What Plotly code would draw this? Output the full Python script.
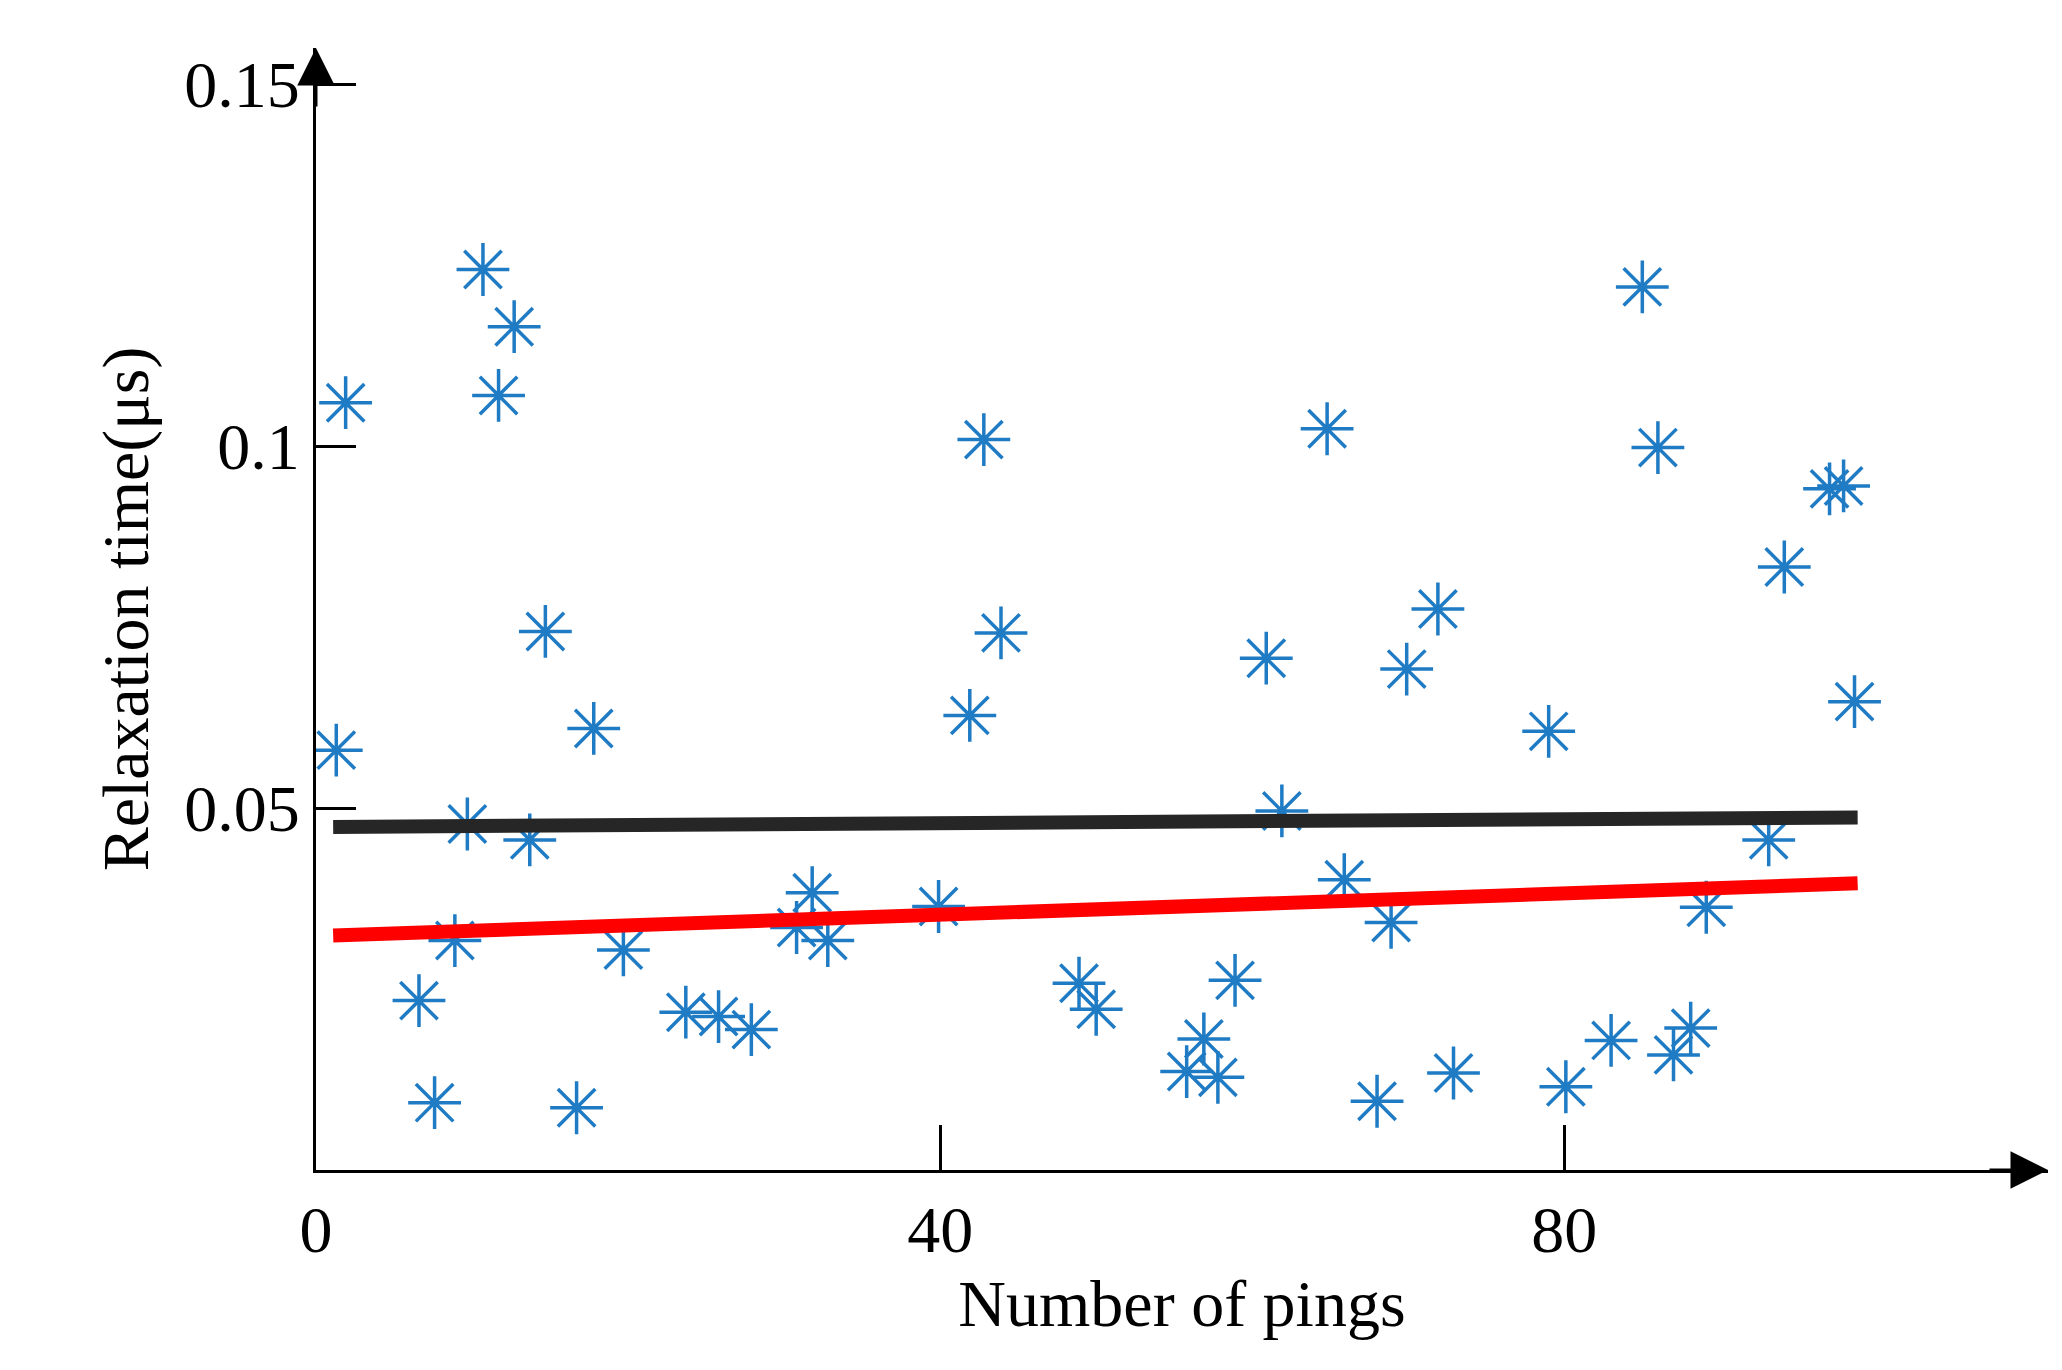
import plotly.graph_objects as go

pings = [1.9, 1.3, 6.6, 7.6, 8.9, 9.7, 10.7, 11.7, 12.7, 13.7, 14.7, 16.7, 17.8, 19.7,
         23.7, 25.8, 27.9, 30.8, 31.8, 32.8, 39.9, 41.9, 42.8, 43.9, 48.9, 50.0, 55.8,
         56.9, 57.8, 58.9, 60.9, 61.9, 64.8, 65.9, 68.0, 68.9, 69.9, 71.9, 72.9, 79.0,
         80.1, 83.0, 85.0, 86.0, 87.0, 88.1, 89.1, 93.1, 94.1, 97.0, 97.9, 98.6]
relax = [0.106, 0.058, 0.0234, 0.0093, 0.0317, 0.0478, 0.1244, 0.107, 0.1165, 0.0456,
         0.0744, 0.0086, 0.061, 0.0304, 0.0218, 0.0212, 0.0194, 0.0335, 0.0383, 0.0317,
         0.0364, 0.0628, 0.1009, 0.0742, 0.0258, 0.0222, 0.0136, 0.0181, 0.0128, 0.0262,
         0.0707, 0.0496, 0.1024, 0.0401, 0.0095, 0.0342, 0.0692, 0.0775, 0.0134, 0.0606,
         0.0115, 0.0179, 0.122, 0.0998, 0.0159, 0.0196, 0.0363, 0.0456, 0.0833, 0.0941,
         0.0945, 0.0647]
line_x = [1.1, 98.8]
black_y = [0.0474, 0.0487]
red_y = [0.0324, 0.0396]

font = "Liberation Serif"
fig = go.Figure()
fig.add_trace(go.Scatter(x=pings, y=relax, mode="markers",
                         marker=dict(symbol="asterisk-open", size=44, color="#1f7bc4",
                                     line=dict(width=3.5, color="#1f7bc4"))))
fig.add_trace(go.Scatter(x=line_x, y=black_y, mode="lines", line=dict(color="#262626", width=14)))
fig.add_trace(go.Scatter(x=line_x, y=red_y, mode="lines", line=dict(color="#ff0000", width=14)))

fig.update_layout(
    width=2062, height=1370, showlegend=False,
    plot_bgcolor="white", paper_bgcolor="white",
    margin=dict(l=308, r=22, t=40, b=208),
    font=dict(family=font, size=66, color="black"),
    xaxis=dict(range=[0, 111], tickvals=[0, 40, 80], ticks="inside", ticklen=45,
               tickwidth=3, tickcolor="black", showgrid=False, zeroline=False, showline=True,
               linecolor="black", linewidth=3,
               title=dict(text="Number of pings", font=dict(size=66))),
    yaxis=dict(range=[0, 0.155], tickvals=[0.05, 0.1, 0.15], ticktext=["0.05", "0.1", "0.15"],
               ticks="inside", ticklen=40, tickwidth=3, tickcolor="black", showgrid=False,
               zeroline=False, showline=True, linecolor="black", linewidth=3,
               title=dict(text="Relaxation time(μs)", font=dict(size=66))),
)
fig.add_annotation(xref="paper", yref="paper", x=1, y=0, ax=-60, ay=0, showarrow=True,
                   arrowhead=2, arrowsize=2.5, arrowwidth=3, arrowcolor="black", text="")
fig.add_annotation(xref="paper", yref="paper", x=0, y=1, ax=0, ay=60, showarrow=True,
                   arrowhead=2, arrowsize=2.5, arrowwidth=3, arrowcolor="black", text="")
fig.write_html("out.html")
